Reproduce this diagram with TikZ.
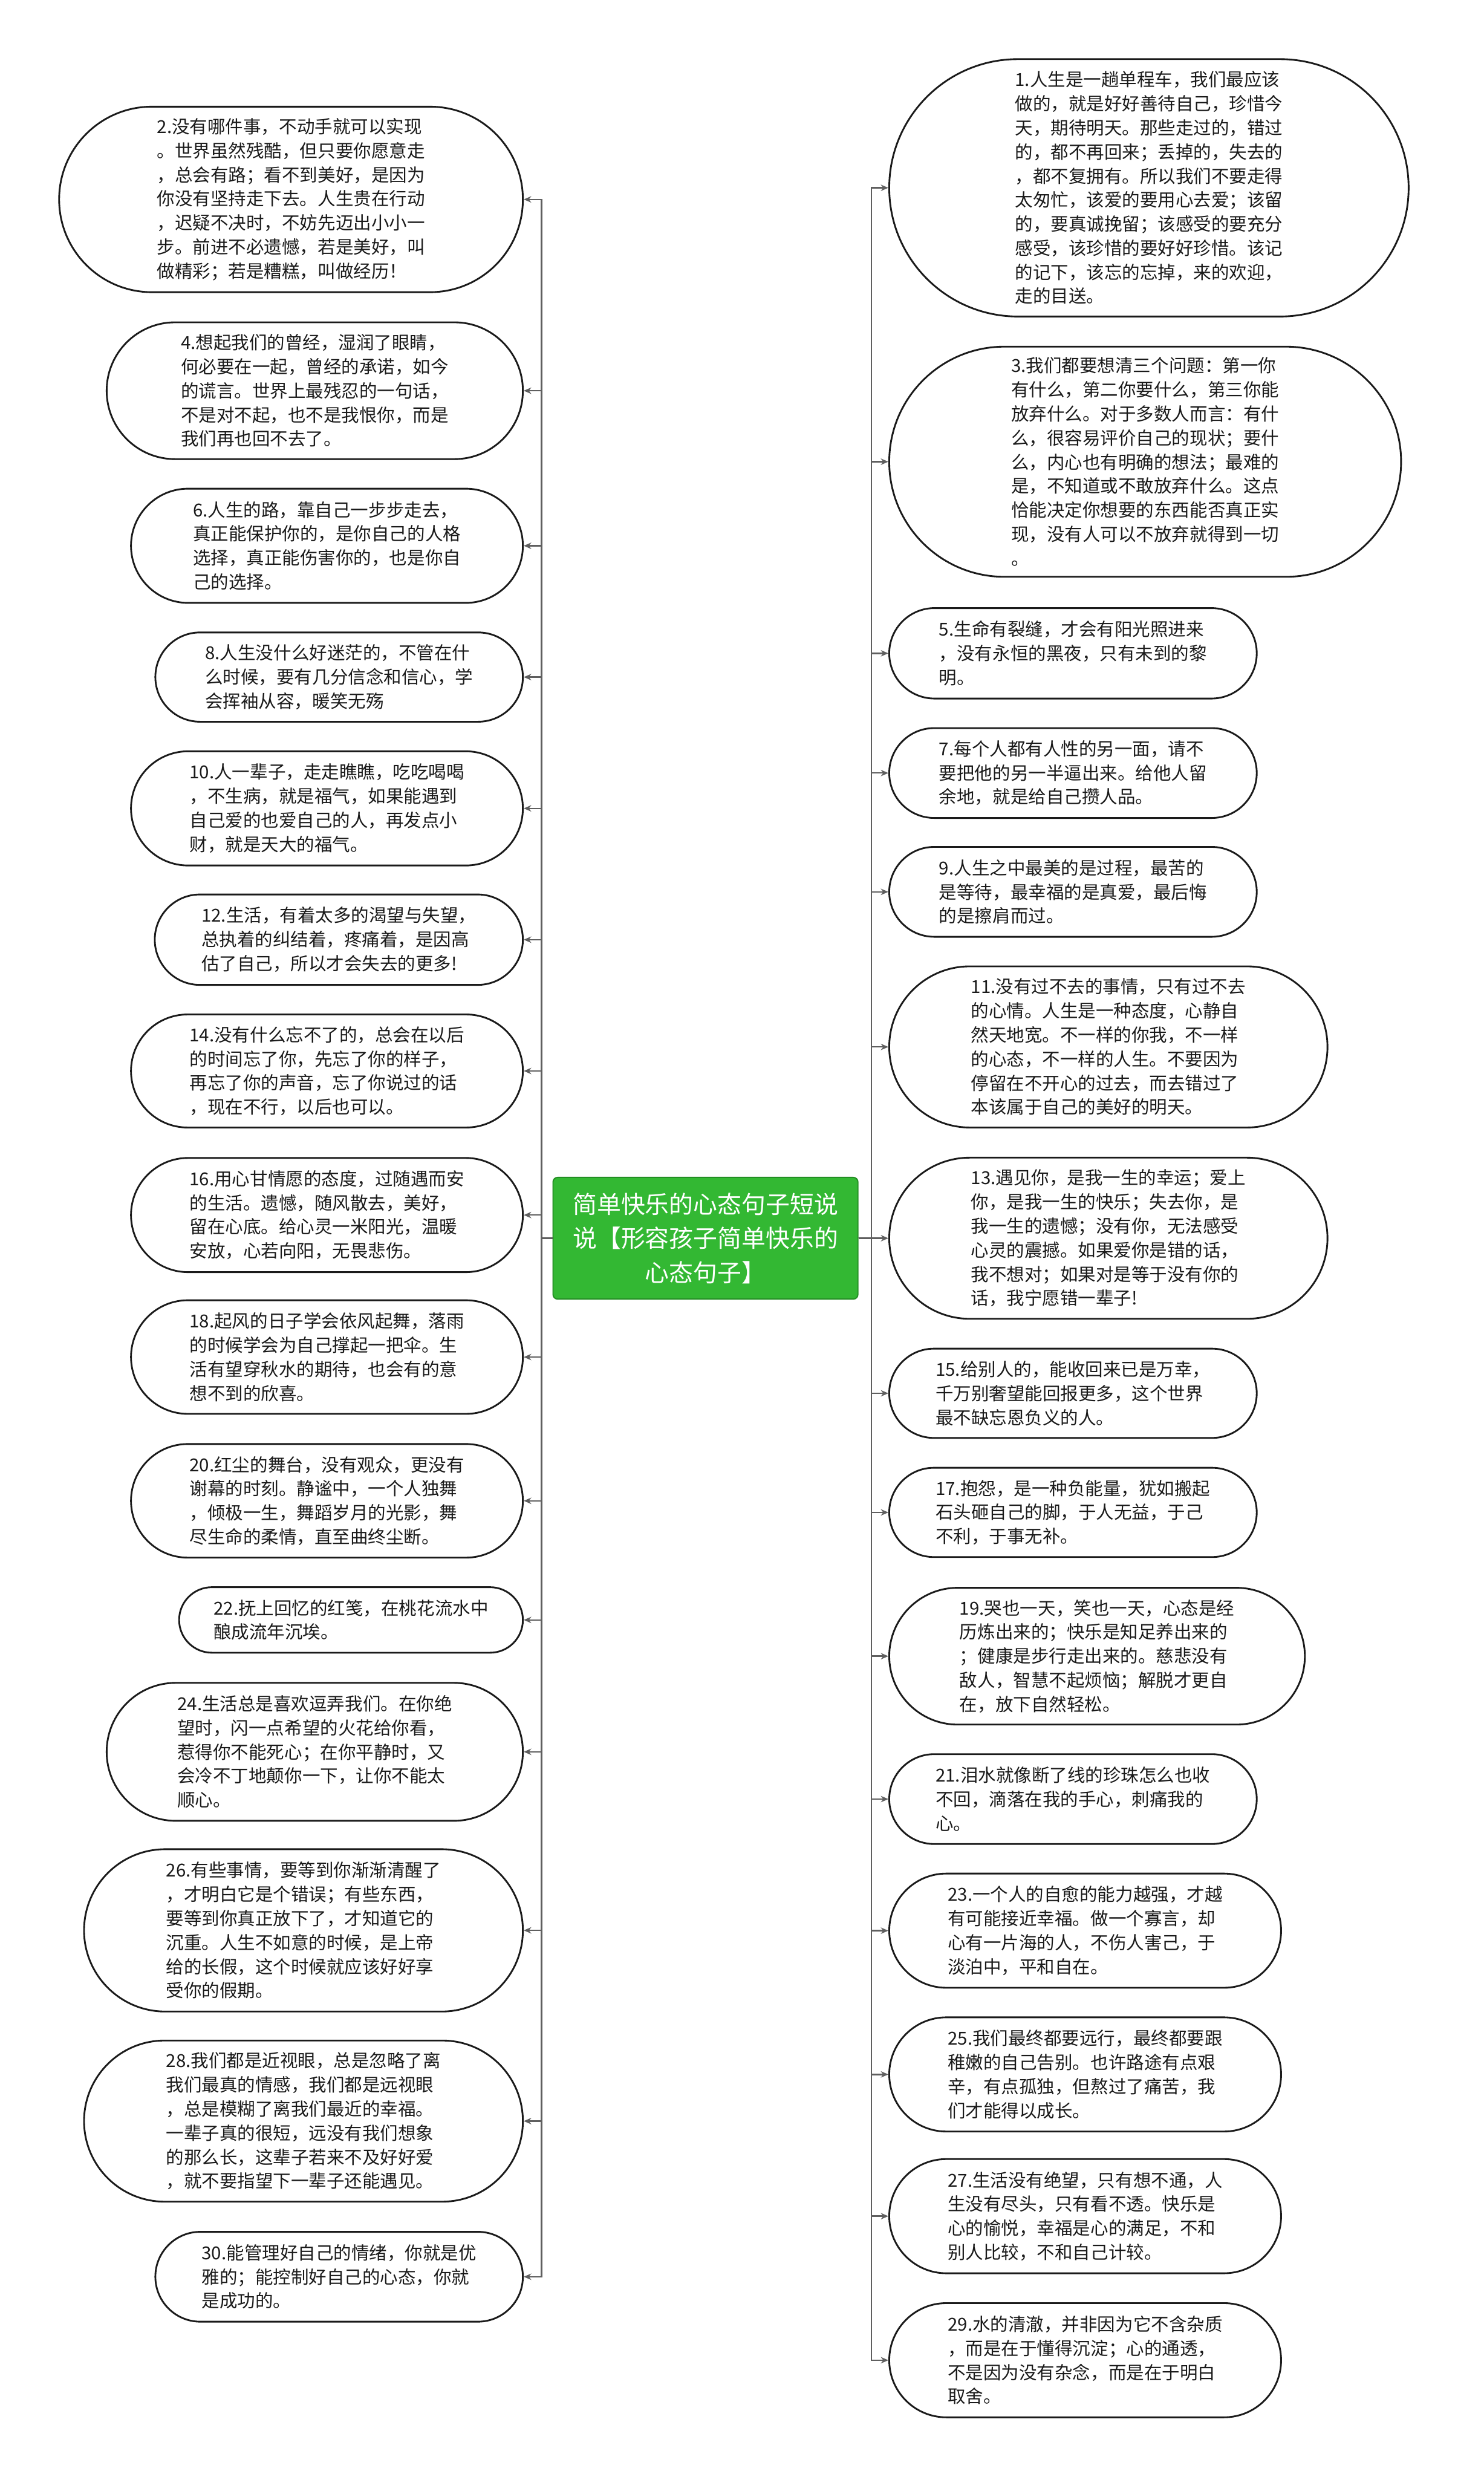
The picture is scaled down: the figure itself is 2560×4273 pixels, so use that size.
\documentclass[tikz,border=0pt]{standalone}
\usepackage{fontspec}
\newfontfamily\cjk{Noto Sans CJK SC}
\usepackage{xcolor}
\usepackage{tikz}
\usetikzlibrary{arrows.meta}
\tikzset{pill/.style 2 args={draw=blackmain,line width=3pt,fill=white,rounded corners=#2/2,
minimum width=#1,minimum height=#2,inner sep=0pt,align=left,text=blackmain,
font=\cjk\fontsize{30.8}{41.5}\selectfont},
hub/.style={draw=greenedge,line width=2pt,fill=greenhub,rounded corners=8pt,
minimum width=526,minimum height=210,inner sep=0pt,align=center,text=white,
font=\cjk\fontsize{41.6}{59}\selectfont},
link/.style={-{Stealth[length=13pt,width=11pt]},line width=2.5pt,graylink}}
\definecolor{blackmain}{HTML}{1A1A1A}
\definecolor{graylink}{HTML}{5F5F5F}
\definecolor{greenhub}{HTML}{33B833}
\definecolor{greenedge}{HTML}{238E23}

\begin{document}
\begin{tikzpicture}[x=1pt,y=-1pt]
\useasboundingbox[fill=white] (0,0) rectangle (2560,4273);
\node[hub] (hub) at (1217,2136) {简单快乐的心态句子短说\\说【形容孩子简单快乐的\\心态句子】};

\node[pill={800}{320}] (n2) at (502,344) {2.没有哪件事，不动手就可以实现\\。世界虽然残酷，但只要你愿意走\\，总会有路；看不到美好，是因为\\你没有坚持走下去。人生贵在行动\\，迟疑不决时，不妨先迈出小小一\\步。前进不必遗憾，若是美好，叫\\做精彩；若是糟糕，叫做经历！};
\node[pill={718}{236}] (n4) at (543,674) {4.想起我们的曾经，湿润了眼睛，\\何必要在一起，曾经的承诺，如今\\的谎言。世界上最残忍的一句话，\\不是对不起，也不是我恨你，而是\\我们再也回不去了。};
\node[pill={676}{197}] (n6) at (564,941.5) {6.人生的路，靠自己一步步走去，\\真正能保护你的，是你自己的人格\\选择，真正能伤害你的，也是你自\\己的选择。};
\node[pill={634}{154}] (n8) at (585,1168) {8.人生没什么好迷茫的，不管在什\\么时候，要有几分信念和信心，学\\会挥袖从容，暖笑无殇};
\node[pill={676}{197}] (n10) at (564,1394.5) {10.人一辈子，走走瞧瞧，吃吃喝喝\\，不生病，就是福气，如果能遇到\\自己爱的也爱自己的人，再发点小\\财，就是天大的福气。};
\node[pill={635}{156}] (n12) at (584.5,1621) {12.生活，有着太多的渴望与失望，\\总执着的纠结着，疼痛着，是因高\\估了自己，所以才会失去的更多!};
\node[pill={676}{195}] (n14) at (564,1847.5) {14.没有什么忘不了的，总会在以后\\的时间忘了你，先忘了你的样子，\\再忘了你的声音，忘了你说过的话\\，现在不行，以后也可以。};
\node[pill={676}{197}] (n16) at (564,2096) {16.用心甘情愿的态度，过随遇而安\\的生活。遗憾，随风散去，美好，\\留在心底。给心灵一米阳光，温暖\\安放，心若向阳，无畏悲伤。};
\node[pill={676}{196}] (n18) at (564,2341) {18.起风的日子学会依风起舞，落雨\\的时候学会为自己撑起一把伞。生\\活有望穿秋水的期待，也会有的意\\想不到的欣喜。};
\node[pill={676}{196}] (n20) at (564,2589) {20.红尘的舞台，没有观众，更没有\\谢幕的时刻。静谧中，一个人独舞\\，倾极一生，舞蹈岁月的光影，舞\\尽生命的柔情，直至曲终尘断。};
\node[pill={593}{113}] (n22) at (605.5,2794.5) {22.抚上回忆的红笺，在桃花流水中\\酿成流年沉埃。};
\node[pill={718}{238}] (n24) at (543,3022) {24.生活总是喜欢逗弄我们。在你绝\\望时，闪一点希望的火花给你看，\\惹得你不能死心；在你平静时，又\\会冷不丁地颠你一下，让你不能太\\顺心。};
\node[pill={757}{280}] (n26) at (523.5,3330) {26.有些事情，要等到你渐渐清醒了\\，才明白它是个错误；有些东西，\\要等到你真正放下了，才知道它的\\沉重。人生不如意的时候，是上帝\\给的长假，这个时候就应该好好享\\受你的假期。};
\node[pill={757}{278}] (n28) at (523.5,3659) {28.我们都是近视眼，总是忽略了离\\我们最真的情感，我们都是远视眼\\，总是模糊了离我们最近的幸福。\\一辈子真的很短，远没有我们想象\\的那么长，这辈子若来不及好好爱\\，就不要指望下一辈子还能遇见。};
\node[pill={634}{155}] (n30) at (585,3927.5) {30.能管理好自己的情绪，你就是优\\雅的；能控制好自己的心态，你就\\是成功的。};

\node[pill={896}{444}] (n1) at (1982,324) {1.人生是一趟单程车，我们最应该\\做的，就是好好善待自己，珍惜今\\天，期待明天。那些走过的，错过\\的，都不再回来；丢掉的，失去的\\，都不复拥有。所以我们不要走得\\太匆忙，该爱的要用心去爱；该留\\的，要真诚挽留；该感受的要充分\\感受，该珍惜的要好好珍惜。该记\\的记下，该忘的忘掉，来的欢迎，\\走的目送。};
\node[pill={883}{397}] (n3) at (1975.5,796.5) {3.我们都要想清三个问题：第一你\\有什么，第二你要什么，第三你能\\放弃什么。对于多数人而言：有什\\么，很容易评价自己的现状；要什\\么，内心也有明确的想法；最难的\\是，不知道或不敢放弃什么。这点\\恰能决定你想要的东西能否真正实\\现，没有人可以不放弃就得到一切\\。};
\node[pill={634}{156}] (n5) at (1851,1127) {5.生命有裂缝，才会有阳光照进来\\，没有永恒的黑夜，只有未到的黎\\明。};
\node[pill={634}{155}] (n7) at (1851,1333.5) {7.每个人都有人性的另一面，请不\\要把他的另一半逼出来。给他人留\\余地，就是给自己攒人品。};
\node[pill={634}{155}] (n9) at (1851,1538.5) {9.人生之中最美的是过程，最苦的\\是等待，最幸福的是真爱，最后悔\\的是擦肩而过。};
\node[pill={756}{278}] (n11) at (1912,1806) {11.没有过不去的事情，只有过不去\\的心情。人生是一种态度，心静自\\然天地宽。不一样的你我，不一样\\的心态，不一样的人生。不要因为\\停留在不开心的过去，而去错过了\\本该属于自己的美好的明天。};
\node[pill={756}{278}] (n13) at (1912,2136) {13.遇见你，是我一生的幸运；爱上\\你，是我一生的快乐；失去你，是\\我一生的遗憾；没有你，无法感受\\心灵的震撼。如果爱你是错的话，\\我不想对；如果对是等于没有你的\\话，我宁愿错一辈子!};
\node[pill={634}{154}] (n15) at (1851,2403.5) {15.给别人的，能收回来已是万幸，\\千万别奢望能回报更多，这个世界\\最不缺忘恩负义的人。};
\node[pill={634}{154}] (n17) at (1851,2609) {17.抱怨，是一种负能量，犹如搬起\\石头砸自己的脚，于人无益，于己\\不利，于事无补。};
\node[pill={717}{236}] (n19) at (1892.5,2857) {19.哭也一天，笑也一天，心态是经\\历炼出来的；快乐是知足养出来的\\；健康是步行走出来的。慈悲没有\\敌人，智慧不起烦恼；解脱才更自\\在，放下自然轻松。};
\node[pill={634}{155}] (n21) at (1851,3103.5) {21.泪水就像断了线的珍珠怎么也收\\不回，滴落在我的手心，刺痛我的\\心。};
\node[pill={676}{197}] (n23) at (1872,3330.5) {23.一个人的自愈的能力越强，才越\\有可能接近幸福。做一个寡言，却\\心有一片海的人，不伤人害己，于\\淡泊中，平和自在。};
\node[pill={676}{197}] (n25) at (1872,3578.5) {25.我们最终都要远行，最终都要跟\\稚嫩的自己告别。也许路途有点艰\\辛，有点孤独，但熬过了痛苦，我\\们才能得以成长。};
\node[pill={676}{197}] (n27) at (1872,3823) {27.生活没有绝望，只有想不通，人\\生没有尽头，只有看不透。快乐是\\心的愉悦，幸福是心的满足，不和\\别人比较，不和自己计较。};
\node[pill={676}{197}] (n29) at (1872,4071.5) {29.水的清澈，并非因为它不含杂质\\，而是在于懂得沉淀；心的通透，\\不是因为没有杂念，而是在于明白\\取舍。};

\foreach \n in {2,4,...,30}
\draw[link] (hub.west) -- ++(-19,0) |- (n\n.east);
\foreach \n in {1,3,...,29}
\draw[link] (hub.east) -- ++(22,0) |- (n\n.west);
\end{tikzpicture}
\end{document}
